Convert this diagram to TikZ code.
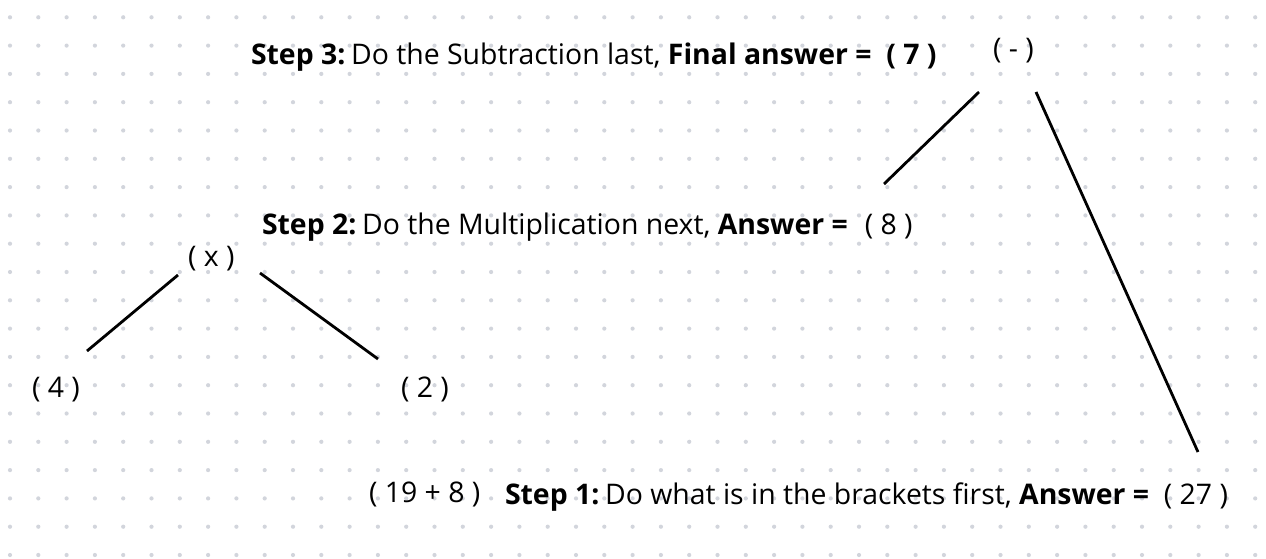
\documentclass[tikz,border=0pt]{standalone}
\usepackage{fontspec}
\setmainfont{Open Sans}
\definecolor{dotgrey}{HTML}{D2D5DC}
\tikzset{
  lbl/.style={inner sep=0pt, outer sep=0pt, font=\fontsize{28.4}{34}\selectfont, anchor=base west},
  edge/.style={line width=2.8pt, black}
}
\begin{document}
\begin{tikzpicture}[x=1pt,y=-1pt]
\useasboundingbox[fill=white] (0,0) rectangle (1266,558);
\foreach \i in {0,...,44}{
  \foreach \j in {0,...,19}{
    \fill[dotgrey] ({10+28.3*\i},{17.3+28.3*\j}) circle[radius=2.1];
  }
}
% texts
\node[lbl] (step3) at (251,64) {\textbf{Step 3:}\hspace{0.2em}Do the Subtraction last, \textbf{Final answer =\ \ ( 7 )}};
\node[lbl] (minus) at (993,58) {( - )};
\node[lbl] (step2) at (262,234) {\textbf{Step 2:}\hspace{0.2em}Do the Multiplication next, \textbf{Answer =}\hspace{0.6em}( 8 )};
\node[lbl] (times) at (188,266) {( x )};
\node[lbl] (four) at (32,397) {( 4 )};
\node[lbl] (two) at (401,397) {( 2 )};
\node[lbl] (sum) at (369,502) {( 19 + 8 )};
\node[lbl] (step1) at (505,504) {\textbf{Step 1:}\hspace{0.2em}Do what is in the brackets first, \textbf{Answer =}\ \ ( 27 )};
% connector end points
\coordinate (mA) at (979,92);
\coordinate (eA) at (884,184);
\coordinate (mB) at (1036,92);
\coordinate (eB) at (1198,452);
\coordinate (xA) at (178,275);
\coordinate (fA) at (87,351);
\coordinate (xB) at (260,273);
\coordinate (tB) at (378,359);
\draw[edge] (mA) -- (eA);
\draw[edge] (mB) -- (eB);
\draw[edge] (xA) -- (fA);
\draw[edge] (xB) -- (tB);
\end{tikzpicture}
\end{document}
